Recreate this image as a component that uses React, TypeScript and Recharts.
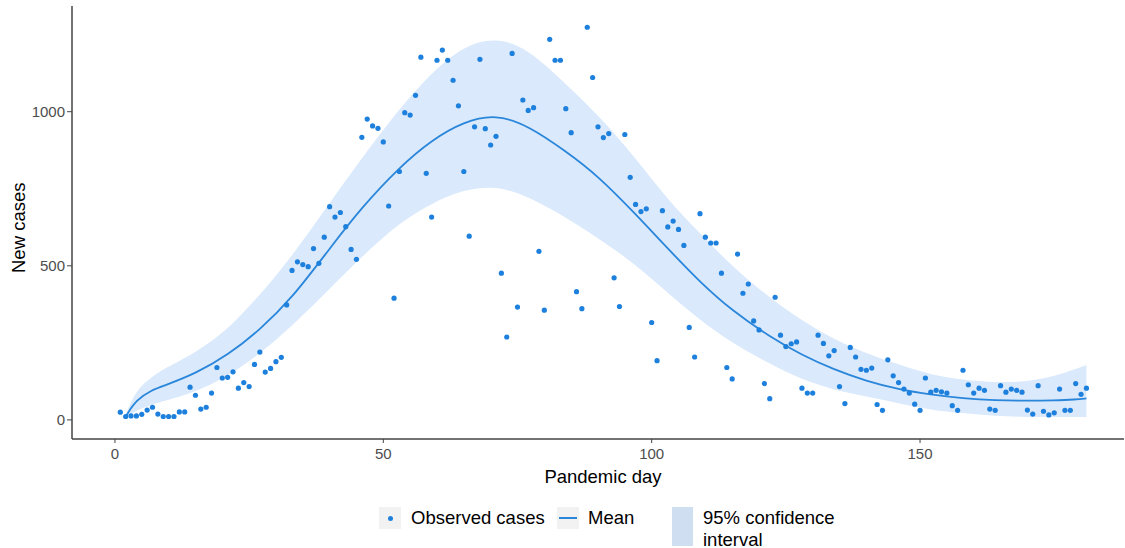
import React from 'react';
import { ComposedChart, Area, Line, Scatter, XAxis, YAxis } from 'recharts';

// daily observed new cases, day 1..181
const observed = [
  25, 11, 13, 13, 18, 32, 41, 19, 11, 11, 11, 26, 26, 106, 80, 35, 41, 87, 170, 136,
  138, 156, 103, 121, 108, 180, 220, 155, 167, 189, 203, 373, 485, 513, 504, 497, 556, 508, 593, 692,
  658, 673, 627, 553, 521, 917, 976, 954, 946, 902, 694, 395, 806, 997, 989, 1053, 1177, 800, 658, 1167,
  1200, 1167, 1102, 1019, 806, 596, 951, 1170, 945, 892, 920, 476, 269, 1189, 366, 1038, 1004, 1013, 547, 356,
  1235, 1167, 1167, 1010, 932, 416, 361, 1274, 1111, 951, 916, 929, 461, 368, 926, 787, 699, 676, 685, 316,
  192, 679, 626, 645, 618, 566, 300, 204, 669, 593, 574, 574, 476, 170, 133, 538, 411, 441, 321, 292,
  118, 69, 398, 275, 238, 247, 253, 103, 87, 87, 275, 248, 208, 225, 108, 53, 235, 204, 164, 161,
  168, 50, 31, 195, 143, 121, 100, 87, 51, 31, 136, 90, 96, 91, 87, 46, 31, 161, 114, 87,
  103, 96, 35, 31, 111, 90, 100, 96, 90, 32, 19, 111, 28, 16, 23, 100, 31, 31, 118, 83,
  103,
];

// fitted mean and 95% interval, read at these days
const fitDays = [2, 4, 7, 9, 15, 21, 27, 33, 40, 46, 53, 59, 65, 71, 77, 84, 90, 97, 103, 109, 115, 122, 128, 134, 140, 146, 152, 158, 164, 170, 175, 179, 181];
const meanCases = [11, 66, 98, 110, 150, 210, 292, 395, 556, 690, 820, 908, 968, 992, 955, 872, 792, 668, 556, 447, 354, 270, 210, 163, 126, 99, 82, 70, 63, 62, 63, 66, 70];
const lowerCI = [6, 32, 50, 60, 90, 141, 214, 305, 425, 530, 640, 703, 748, 760, 725, 658, 590, 505, 411, 324, 249, 182, 130, 97, 76, 54, 32, 22, 13, 9, 9, 9, 9];
const upperCI = [17, 100, 140, 165, 218, 292, 405, 530, 705, 850, 1010, 1127, 1214, 1242, 1204, 1090, 990, 850, 714, 606, 497, 396, 322, 260, 216, 180, 146, 130, 121, 124, 141, 165, 178];

const xTicks = [0, 50, 100, 150];
const yTicks = [0, 500, 1000];

const data = observed.map((cases, i) => {
  const day = i + 1;
  const k = fitDays.indexOf(day);
  return {
    day,
    cases,
    mean: k >= 0 ? meanCases[k] : null,
    band: k >= 0 ? [lowerCI[k], upperCI[k]] : null,
  };
});

const POINT = '#1E80DD';
const LINE = '#2A86DA';
const BAND = '#DAE9FB';
const FONT = '"Liberation Sans", Arial, sans-serif';

const tickStyle = { fontSize: 15, fill: '#4d4d4d', fontFamily: FONT };

export default function App() {
  return (
    <div style={{ position: 'relative', width: 1125, height: 548, fontFamily: FONT, background: '#fff' }}>
      <style>{'body{margin:0}'}</style>
      <ComposedChart width={1125} height={548} data={data} margin={{ top: 6, right: 1, left: 0, bottom: 64 }}>
        <XAxis
          type="number"
          dataKey="day"
          domain={[-8, 188]}
          ticks={xTicks}
          allowDataOverflow
          height={45}
          tickSize={4}
          tickMargin={5}
          tick={tickStyle}
          axisLine={{ stroke: '#444', strokeWidth: 1.5 }}
          tickLine={{ stroke: '#444' }}
        />
        <YAxis
          type="number"
          domain={[-62, 1343]}
          ticks={yTicks}
          allowDataOverflow
          width={72}
          tickSize={5}
          tickMargin={2}
          tick={tickStyle}
          axisLine={{ stroke: '#444', strokeWidth: 1.5 }}
          tickLine={{ stroke: '#444' }}
        />
        <Area
          type="basis"
          dataKey="band"
          fill={BAND}
          fillOpacity={1}
          stroke="none"
          connectNulls
          isAnimationActive={false}
        />
        <Line
          type="basis"
          dataKey="mean"
          stroke={LINE}
          strokeWidth={1.8}
          dot={false}
          activeDot={false}
          connectNulls
          isAnimationActive={false}
        />
        <Scatter
          dataKey="cases"
          fill={POINT}
          isAnimationActive={false}
          shape={(p: any) => <circle cx={p.cx} cy={p.cy} r={2.6} fill={POINT} />}
        />
      </ComposedChart>

      <div style={{ position: 'absolute', left: 0, top: 214, width: 38, textAlign: 'center', transform: 'rotate(-90deg)', fontSize: 18.5, color: '#000', whiteSpace: 'nowrap', lineHeight: '20px' }}>
        <span style={{ display: 'inline-block', transform: 'translateX(-30px)' }}>New cases</span>
      </div>
      <div style={{ position: 'absolute', left: 72, width: 1062, top: 466, textAlign: 'center', fontSize: 18.5, color: '#000' }}>
        Pandemic day
      </div>

      <div style={{ position: 'absolute', top: 507, left: 379, fontSize: 18.5, color: '#000' }}>
        <div style={{ position: 'absolute', left: 0, top: 0, width: 22, height: 22, background: '#f2f2f2' }}>
          <div style={{ position: 'absolute', left: 9, top: 9, width: 5, height: 5, borderRadius: 3, background: POINT }} />
        </div>
        <div style={{ position: 'absolute', left: 32, top: 0, lineHeight: '22px', whiteSpace: 'nowrap' }}>Observed cases</div>
        <div style={{ position: 'absolute', left: 178, top: 0, width: 22, height: 22, background: '#f2f2f2' }}>
          <div style={{ position: 'absolute', left: 2, top: 10, width: 18, height: 2, background: LINE }} />
        </div>
        <div style={{ position: 'absolute', left: 209, top: 0, lineHeight: '22px', whiteSpace: 'nowrap' }}>Mean</div>
        <div style={{ position: 'absolute', left: 293, top: 0, width: 21, height: 39, background: '#cfdff1' }} />
        <div style={{ position: 'absolute', left: 324, top: 0, lineHeight: '22px', whiteSpace: 'nowrap' }}>
          95% confidence
          <br />
          interval
        </div>
      </div>
    </div>
  );
}
